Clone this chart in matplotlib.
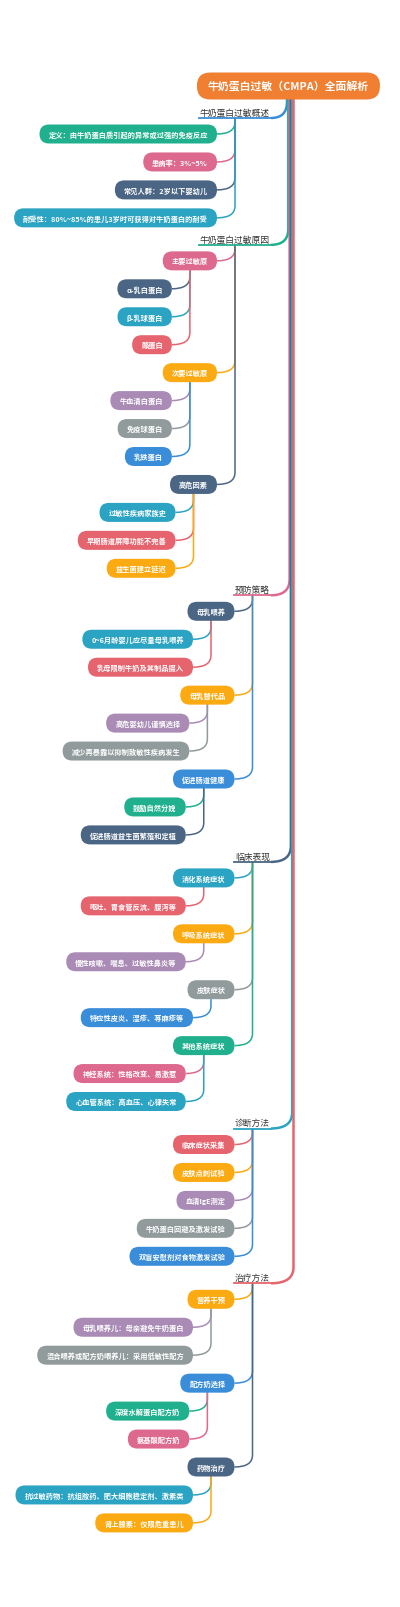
import matplotlib
matplotlib.use('Agg')
import matplotlib.pyplot as plt
from matplotlib.patches import FancyBboxPatch
from matplotlib.path import Path
from matplotlib.patches import PathPatch

plt.rcParams['font.family'] = ['Noto Sans CJK SC', 'DejaVu Sans']

TEAL, PINK, SLATE, CYAN = '#21B08E', '#DD6A8E', '#4B6684', '#2BA3C2'
ORANGE, PURPLE, GRAY, BLUE, RED = '#FBAA12', '#A98BB6', '#919B9B', '#3A8DD8', '#E5646E'

root = '牛奶蛋白过敏（CMPA）全面解析'
sections = ['牛奶蛋白过敏概述', '牛奶蛋白过敏原因', '预防策略', '临床表现', '诊断方法', '治疗方法']
section_colors = [BLUE, TEAL, PINK, SLATE, CYAN, RED]

# each section: list of (label, color, [(leaf, color), ...])
tree = [
    [('定义：由牛奶蛋白质引起的异常或过强的免疫反应', TEAL, []),
     ('患病率：3%~5%', PINK, []),
     ('常见人群：2岁以下婴幼儿', SLATE, []),
     ('耐受性：80%~85%的患儿3岁时可获得对牛奶蛋白的耐受', CYAN, [])],
    [('主要过敏原', PINK, [('α-乳白蛋白', SLATE), ('β-乳球蛋白', CYAN), ('酪蛋白', RED)]),
     ('次要过敏原', ORANGE, [('牛血清白蛋白', PURPLE), ('免疫球蛋白', GRAY), ('乳铁蛋白', BLUE)]),
     ('高危因素', SLATE, [('过敏性疾病家族史', CYAN), ('早期肠道屏障功能不完善', RED), ('益生菌建立延迟', ORANGE)])],
    [('母乳喂养', SLATE, [('0~6月龄婴儿应尽量母乳喂养', CYAN), ('乳母限制牛奶及其制品摄入', RED)]),
     ('母乳替代品', ORANGE, [('高危婴幼儿谨慎选择', PURPLE), ('减少再暴露以抑制致敏性疾病发生', GRAY)]),
     ('促进肠道健康', BLUE, [('鼓励自然分娩', TEAL), ('促进肠道益生菌繁殖和定植', SLATE)])],
    [('消化系统症状', CYAN, [('呕吐、胃食管反流、腹泻等', RED)]),
     ('呼吸系统症状', ORANGE, [('慢性咳嗽、喘息、过敏性鼻炎等', PURPLE)]),
     ('皮肤症状', GRAY, [('特应性皮炎、湿疹、荨麻疹等', BLUE)]),
     ('其他系统症状', TEAL, [('神经系统：性格改变、易激惹', PINK), ('心血管系统：高血压、心律失常', CYAN)])],
    [('临床症状采集', RED, []), ('皮肤点刺试验', ORANGE, []), ('血清IgE测定', PURPLE, []),
     ('牛奶蛋白回避及激发试验', GRAY, []), ('双盲安慰剂对食物激发试验', BLUE, [])],
    [('营养干预', ORANGE, [('母乳喂养儿：母亲避免牛奶蛋白', PURPLE), ('混合喂养或配方奶喂养儿：采用低敏性配方', GRAY)]),
     ('配方奶选择', BLUE, [('深度水解蛋白配方奶', TEAL), ('氨基酸配方奶', PINK)]),
     ('药物治疗', SLATE, [('抗过敏药物：抗组胺药、肥大细胞稳定剂、激素类', CYAN), ('肾上腺素：仅限危重患儿', ORANGE)])],
]

W, H = 400, 1608
fig = plt.figure(figsize=(4, 16.08), dpi=100)
ax = fig.add_axes([0, 0, 1, 1])
ax.set_xlim(0, W)
ax.set_ylim(H, 0)
ax.axis('off')
renderer = fig.canvas.get_renderer()


def text_width(s, size, weight='bold'):
    t = ax.text(0, 0, s, fontsize=size, fontweight=weight)
    w = t.get_window_extent(renderer).width
    t.remove()
    return w  # pixels == data units here


def pill(s, right, y, color, size=5.2, h=19, pad=9):
    w = text_width(s, size) + 2 * pad
    left = right - w
    ax.add_patch(FancyBboxPatch((left, y - h / 2), w, h,
                                boxstyle='round,pad=0,rounding_size=%f' % (h / 2),
                                fc=color, ec='none', zorder=3))
    ax.text(left + w / 2, y, s, fontsize=size, color='white', fontweight='bold',
            ha='center', va='center', zorder=4)
    return left, right


def edge(x0, y0, x1, y1, color, lw=1.1):
    # vertical from parent down, then curve into child's right side
    ybend = y1 - 12
    if ybend > y0:
        verts = [(x0, y0), (x0, ybend), (x0, y1), (x1, y1)]
        codes = [Path.MOVETO, Path.LINETO, Path.CURVE3, Path.CURVE3]
    else:
        verts = [(x0, y0), (x0, y1), (x1, y1)]
        codes = [Path.MOVETO, Path.CURVE3, Path.CURVE3]
    ax.add_patch(PathPatch(Path(verts, codes), fc='none', ec=color, lw=lw, zorder=2))


# root
rl, rr = pill(root, 380, 87, '#F07F32', size=7.8, h=27, pad=11)
trunk_x = 290

STEP, PRE, POST = 27.95, 21, 22
y = 113
for si, (sec, scol) in enumerate(zip(sections, section_colors)):
    if si > 0:
        y += PRE
    # section label
    sw = text_width(sec, 6.3, 'normal')
    sr = 271
    sl = sr - sw - 2
    sy = y
    ax.text(sr - 1, y, sec, fontsize=6.3, color='#333333', ha='right', va='center', zorder=4)
    ax.plot([sl, sr], [y + 6, y + 6], color=scol, lw=1.3, zorder=3)
    # trunk connection
    tx = trunk_x - 3 + si * 1.3
    ax.add_patch(PathPatch(Path([(tx, 100), (tx, y - 10), (tx, y + 6), (sr, y + 6)],
                                [Path.MOVETO, Path.LINETO, Path.CURVE3, Path.CURVE3]),
                           fc='none', ec=scol, lw=1.8, zorder=1))
    sx = (sl + sr) / 2
    cright = sx - 18
    for ci, (lab, col, leaves) in enumerate(tree[si]):
        y += POST if ci == 0 else STEP
        l, r = pill(lab, cright, y, col)
        edge(sx, sy + 6, r, y, col)
        px = (l + r) / 2
        py = y
        for li, (leaf, lcol) in enumerate(leaves):
            y += STEP
            ll, lr = pill(leaf, px - 18, y, lcol)
            edge(px, py + 9, lr, y, lcol)

fig.savefig('out.png', dpi=100, facecolor='white')
